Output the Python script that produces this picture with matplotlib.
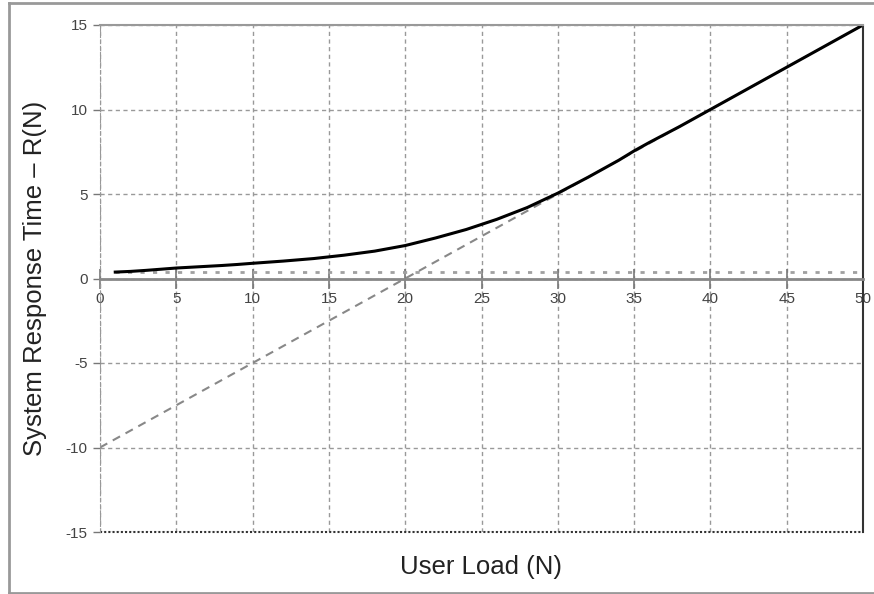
import numpy as np
import matplotlib
matplotlib.use("Agg")
import matplotlib.pyplot as plt
from matplotlib.lines import Line2D

plt.rcParams['font.family'] = ['Liberation Sans', 'DejaVu Sans']
plt.rcParams['axes.unicode_minus'] = False

# values
users = [1, 2, 3, 4, 5, 6, 7, 8, 9, 10, 12, 14, 15, 16, 18, 20, 22, 24, 25, 26,
         28, 30, 32, 34, 35, 36, 38, 40, 42, 44, 45, 46, 48, 50]
resp_time = [0.38, 0.42, 0.48, 0.55, 0.62, 0.67, 0.72, 0.77, 0.83, 0.9, 1.03, 1.18,
             1.28, 1.38, 1.62, 1.95, 2.4, 2.9, 3.2, 3.5, 4.2, 5.05, 6.0, 7.0, 7.55,
             8.05, 9.0, 10.0, 11.0, 12.0, 12.5, 13.0, 14.0, 15.0]
asym_n = [0, 50]
asym_r = [-10, 15]
lower_n = [1, 50]
lower_r = [0.4, 0.4]
xticks = [0, 5, 10, 15, 20, 25, 30, 35, 40, 45, 50]
yticks = [-15, -10, -5, 0, 5, 10, 15]

fig = plt.figure(figsize=(8.74, 5.94), dpi=100)
ax = fig.add_axes([100 / 874, 1 - 532 / 594, 763 / 874, 507 / 594])

ax.set_xlim(0, 50)
ax.set_ylim(-15, 15)
ax.set_xticks(xticks)
ax.set_yticks(yticks)

ax.grid(True, color='#999999', linestyle=(0, (3, 2.5)), linewidth=1)

ax.plot(lower_n, lower_r, color='#a0a0a0', linestyle=(0, (1.5, 3)), linewidth=2)
ax.plot(asym_n, asym_r, color='#888888', linestyle=(0, (4, 3)), linewidth=1.5)
ax.plot(users, resp_time, color='black', linewidth=2.2)

# frame
ax.spines['bottom'].set_position(('data', 0))
ax.spines['bottom'].set_color('#888888')
ax.spines['bottom'].set_linewidth(2)
ax.spines['top'].set_color('#999999')
ax.spines['top'].set_linewidth(1.5)
ax.spines['left'].set_color('#999999')
ax.spines['left'].set_linestyle((0, (3, 2.5)))
ax.spines['right'].set_color('#333333')
ax.spines['right'].set_linestyle((0, (1, 1)))
ax.spines['right'].set_linewidth(1.5)
ax.axhline(-15, color='#333333', linestyle=(0, (1, 1)), linewidth=1.5, clip_on=False)

ax.tick_params(axis='x', direction='inout', length=14, width=1.2, color='#777777',
               labelsize=11, labelcolor='#444444', pad=3)
ax.tick_params(axis='y', direction='out', length=5, width=1, color='#777777',
               labelsize=11, labelcolor='#444444', pad=4)

ax.set_xlabel('User Load (N)', fontsize=18.5, color='#222222')
ax.xaxis.set_label_coords(0.5, -0.045)
ax.set_ylabel('System Response Time \u2013 R(N)', fontsize=18.5, color='#222222')
ax.yaxis.set_label_coords(-0.07, 0.5)

# outer border of the picture
for xs, ys in [([9 / 874, 9 / 874], [0.002, 1 - 3 / 594]),
               ([9 / 874, 1.0], [1 - 3 / 594, 1 - 3 / 594]),
               ([9 / 874, 1.0], [1 / 594, 1 / 594])]:
    fig.add_artist(Line2D(xs, ys, color='#999999', linewidth=2, transform=fig.transFigure))

fig.savefig('out.png', dpi=100)
